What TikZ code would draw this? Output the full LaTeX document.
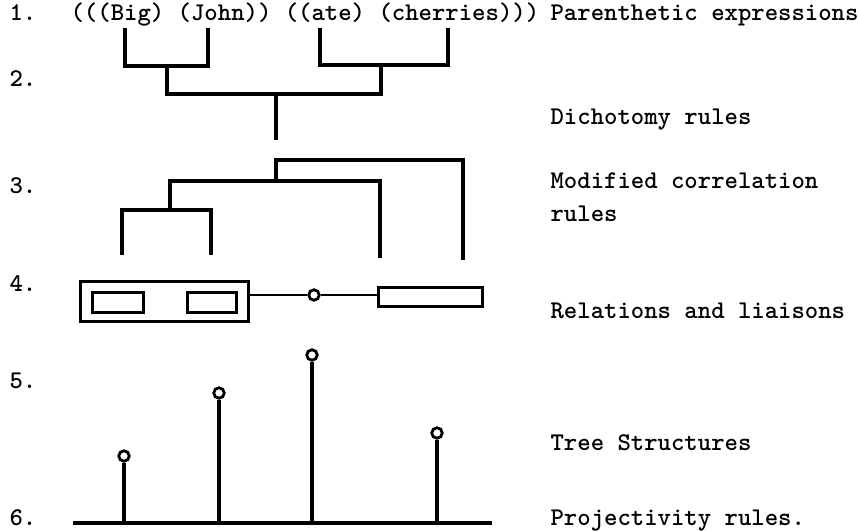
\documentclass[tikz,border=0pt]{standalone}
\usepackage{fontspec}
\begin{document}
\begin{tikzpicture}[x=1pt,y=-1pt,
  line width=3.2pt,
  txt/.style={font=\ttfamily\bfseries\fontsize{25.5}{30}\selectfont, inner sep=0pt, anchor=base west},
  knob/.style={circle, draw, fill=white, line width=2.8pt, minimum size=10.5pt, inner sep=0pt},
  box/.style={draw, line width=3pt}]
\useasboundingbox (0,0) rectangle (858,530);
% row labels
\node[txt] (n1) at (8,20) {1.};
\node[txt] (n2) at (8,86) {2.};
\node[txt] (n3) at (8,193) {3.};
\node[txt] (n4) at (8,291) {4.};
\node[txt] (n5) at (8,388) {5.};
\node[txt] (n6) at (8,525) {6.};
% expression
\node[txt] (expr) at (69,20) {(((Big) (John)) ((ate) (cherries)))};
% right labels
\node[txt] (l1) at (549,20) {Parenthetic expressions};
\node[txt] (l2) at (549,124) {Dichotomy rules};
\node[txt] (l3) at (549,188) {Modified correlation};
\node[txt] (l3b) at (549,221) {rules};
\node[txt] (l4) at (549,318) {Relations and liaisons};
\node[txt] (l5) at (549,450) {Tree Structures};
\node[txt] (l6) at (549,525) {Projectivity rules.};
% row 2: dichotomy brackets
\coordinate (big) at (125,28);
\coordinate (john) at (208,28);
\coordinate (ate) at (320,28);
\coordinate (cher) at (448,28);
\draw (big) |- (167,66) coordinate (bj) -| (john);
\draw (ate) |- (381,65) coordinate (ac) -| (cher);
\draw (bj) -- (167,94) -- (381,94) -- (ac);
\draw (276,94) -- (276,140);
% row 3: modified correlation
\coordinate (t1) at (122,255);
\coordinate (t2) at (211,255);
\coordinate (t3) at (380,258);
\coordinate (t4) at (463,260);
\draw (t1) |- (170,210) -| (t2);
\draw (170,210) |- (276,181) -| (t3);
\draw (276,181) -- (276,160) -| (t4);
% row 4: relations and liaisons
\draw[box] (80,281) rectangle (248,321);
\draw[box] (92,292) rectangle (143,312);
\draw[box] (187,292) rectangle (236,312);
\draw[box] (378,287) rectangle (482,306);
\node[knob] (rel) at (314,295) {};
\draw[line width=2.6pt] (248,295) -- (rel) -- (378,295);
% row 5-6: tree structure
\coordinate (b0) at (73,523);
\coordinate (b1) at (492,523);
\draw (b0) -- (b1);
\node[knob] (k1) at (124,456) {};
\node[knob] (k2) at (219,393) {};
\node[knob] (k3) at (312,355) {};
\node[knob] (k4) at (437,433) {};
\draw (k1) -- (k1 |- b0);
\draw (k2) -- (k2 |- b0);
\draw (k3) -- (k3 |- b0);
\draw (k4) -- (k4 |- b0);
\end{tikzpicture}
\end{document}
